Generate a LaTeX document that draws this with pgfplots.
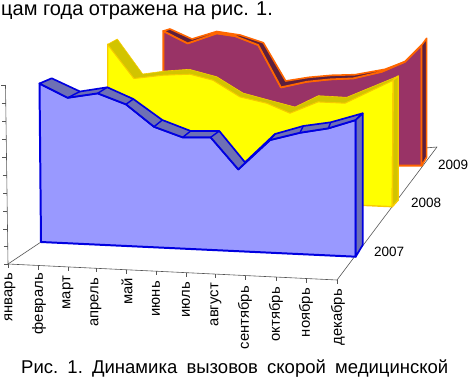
\documentclass[border=0pt]{standalone}
\usepackage{pgfplots}
\pgfplotsset{compat=1.18}
\usepackage{fontspec}
\setmainfont{Liberation Sans}
\definecolor{bluef}{HTML}{9999FF}
\definecolor{blues}{HTML}{6E70B4}
\definecolor{bluee}{HTML}{0000E0}
\definecolor{yelf}{HTML}{FFFF00}
\definecolor{yels}{HTML}{D2C400}
\definecolor{yele}{HTML}{F8CC00}
\definecolor{purf}{HTML}{993366}
\definecolor{purs}{HTML}{5C1F3E}
\definecolor{pure}{HTML}{FF6600}
\definecolor{axc}{HTML}{555555}
\begin{document}
\begin{tikzpicture}
\useasboundingbox (0,0) rectangle (470bp,379bp);
\begin{axis}[
  at={(0,0)}, anchor=south west,
  width=470bp, height=379bp, scale only axis,
  xmin=0, xmax=470, ymin=0, ymax=379, y dir=reverse,
  hide axis, clip=false,
  every axis plot/.append style={line join=round},
]
% --- axes
\addplot[axc, line width=0.6pt] coordinates {(5.5,85) (8,264) (337,280) (437,147) (425,148)};
\addplot[axc, line width=0.6pt] coordinates {(8,264) (41,242)};
\addplot[axc, line width=0.6pt, forget plot] coordinates {(1.5,85) (5.5,85)};
\addplot[axc, line width=0.6pt, forget plot] coordinates {(1.7,103) (5.7,103)};
\addplot[axc, line width=0.6pt, forget plot] coordinates {(2,121) (6,121)};
\addplot[axc, line width=0.6pt, forget plot] coordinates {(2.2,139) (6.2,139)};
\addplot[axc, line width=0.6pt, forget plot] coordinates {(2.5,157) (6.5,157)};
\addplot[axc, line width=0.6pt, forget plot] coordinates {(2.7,175) (6.7,175)};
\addplot[axc, line width=0.6pt, forget plot] coordinates {(3,193) (7,193)};
\addplot[axc, line width=0.6pt, forget plot] coordinates {(3.2,211) (7.2,211)};
\addplot[axc, line width=0.6pt, forget plot] coordinates {(3.5,229) (7.5,229)};
\addplot[axc, line width=0.6pt, forget plot] coordinates {(3.7,246) (7.7,246)};
\addplot[axc, line width=0.6pt, forget plot] coordinates {(4,264) (8,264)};
\addplot[axc, line width=0.6pt, forget plot] coordinates {(38,265.5) (38,269.5)};
\addplot[axc, line width=0.6pt, forget plot] coordinates {(68,267) (68,271)};
\addplot[axc, line width=0.6pt, forget plot] coordinates {(96,268.3) (96,272.3)};
\addplot[axc, line width=0.6pt, forget plot] coordinates {(126,269.8) (126,273.8)};
\addplot[axc, line width=0.6pt, forget plot] coordinates {(156,271.2) (156,275.2)};
\addplot[axc, line width=0.6pt, forget plot] coordinates {(186,272.7) (186,276.7)};
\addplot[axc, line width=0.6pt, forget plot] coordinates {(215,274.1) (215,278.1)};
\addplot[axc, line width=0.6pt, forget plot] coordinates {(245,275.5) (245,279.5)};
\addplot[axc, line width=0.6pt, forget plot] coordinates {(276,277) (276,281)};
\addplot[axc, line width=0.6pt, forget plot] coordinates {(306,278.5) (306,282.5)};
\addplot[axc, line width=0.6pt, forget plot] coordinates {(337,280) (337,284)};
\addplot[axc, line width=0.6pt, forget plot] coordinates {(8,264) (8,268)};
% --- 2009
\addplot[fill=purf, draw=pure, line width=2pt] coordinates {(163.3,31) (187.7,43.3) (216.7,33.3) (235,36) (258.3,45) (281,87.3) (306.7,81.7) (330,79.3) (353.3,78.3) (381.7,71.7) (405,61.7) (421.7,45) (421.7,165.7) (163.3,165.7)} -- cycle;
\addplot[fill=purs, draw=pure, line width=1.6pt] coordinates {(163.3,31) (170,29) (192,39) (216.7,31.5) (240,35) (263.3,42.7) (285.7,81) (309,77.3) (331.7,75.3) (355,74.7) (385,69.3) (405,61.7) (381.7,71.7) (353.3,78.3) (330,79.3) (306.7,81.7) (281,87.3) (258.3,45) (235,36) (216.7,33.3) (187.7,43.3)} -- cycle;
\addplot[fill=purs, draw=pure, line width=1.6pt] coordinates {(421.7,45) (426.7,38.3) (426.7,157) (421.7,165.7)} -- cycle;
% --- 2008
\addplot[fill=yelf, draw=yele, line width=1.4pt] coordinates {(107.7,44.3) (134,78.3) (163,75) (190,74) (213,80) (240,96.7) (266.7,103) (290,113) (318,101.7) (345,103) (393.3,80) (392.3,206.7) (107.7,194)} -- cycle;
\addplot[fill=yels, draw=yele, line width=0.6pt] coordinates {(107.7,44.3) (117.3,39) (142.7,74) (165,71) (189.3,69.3) (216.7,76.7) (243,93) (265,99) (295,107) (318.3,95.7) (346.7,97.3) (398.3,76) (393.3,80) (345,103) (318,101.7) (290,113) (266.7,103) (240,96.7) (213,80) (190,74) (163,75) (134,78.3)} -- cycle;
\addplot[fill=yels, draw=yele, line width=1.4pt] coordinates {(393.3,80) (398.3,76) (398.3,200) (392.3,206.7)} -- cycle;
% --- 2007
\addplot[fill=bluef, draw=bluee, line width=2pt] coordinates {(39.5,83.5) (67.7,97.7) (97.7,93.3) (126,104.3) (154,126.7) (182.7,137.3) (210.7,137.3) (238.3,169.3) (270,140) (300,132.7) (328.3,128.3) (355.7,120) (355.7,256.7) (41,242)} -- cycle;
\addplot[fill=blues, draw=bluee, line width=1.7pt] coordinates {(39.5,83.5) (51.7,78.3) (80,91.5) (107.3,87.3) (133.3,99) (162.3,120) (190.7,131) (219.3,131) (245,162.3) (275,134) (303.3,126) (330.7,122.3) (362.7,113.3) (355.7,120) (328.3,128.3) (300,132.7) (270,140) (238.3,169.3) (210.7,137.3) (182.7,137.3) (154,126.7) (126,104.3) (97.7,93.3) (67.7,97.7)} -- cycle;
\addplot[fill=blues, draw=bluee, line width=1.7pt] coordinates {(355.7,120) (362.7,113.3) (362.7,245) (355.7,256.7)} -- cycle;
% cross lines on the top strips
\addplot[bluee, line width=1.4pt, forget plot] coordinates {(67.7,97.7) (80,91.5)};
\addplot[bluee, line width=1.4pt, forget plot] coordinates {(97.7,93.3) (107.3,87.3)};
\addplot[bluee, line width=1.4pt, forget plot] coordinates {(126,104.3) (133.3,99)};
\addplot[bluee, line width=1.4pt, forget plot] coordinates {(154,126.7) (162.3,120)};
\addplot[bluee, line width=1.4pt, forget plot] coordinates {(182.7,137.3) (190.7,131)};
\addplot[bluee, line width=1.4pt, forget plot] coordinates {(210.7,137.3) (219.3,131)};
\addplot[bluee, line width=1.4pt, forget plot] coordinates {(270,140) (275,134)};
\addplot[bluee, line width=1.4pt, forget plot] coordinates {(300,132.7) (303.3,126)};
\addplot[bluee, line width=1.4pt, forget plot] coordinates {(328.3,128.3) (330.7,122.3)};
% --- text
\def\fs{\fontsize{14.8bp}{16bp}\selectfont}
\def\fy{\fontsize{13.5bp}{15bp}\selectfont}
\node[anchor=east, rotate=90, inner sep=0pt, font=\fs] at (axis cs:10,273) {январь};
\node[anchor=east, rotate=90, inner sep=0pt, font=\fs] at (axis cs:39,273) {февраль};
\node[anchor=east, rotate=90, inner sep=0pt, font=\fs] at (axis cs:68,276) {март};
\node[anchor=east, rotate=90, inner sep=0pt, font=\fs] at (axis cs:96,278) {апрель};
\node[anchor=east, rotate=90, inner sep=0pt, font=\fs] at (axis cs:127,278) {май};
\node[anchor=east, rotate=90, inner sep=0pt, font=\fs] at (axis cs:156,281) {июнь};
\node[anchor=east, rotate=90, inner sep=0pt, font=\fs] at (axis cs:186,282) {июль};
\node[anchor=east, rotate=90, inner sep=0pt, font=\fs] at (axis cs:216,283) {август};
\node[anchor=east, rotate=90, inner sep=0pt, font=\fs] at (axis cs:245,286) {сентябрь};
\node[anchor=east, rotate=90, inner sep=0pt, font=\fs] at (axis cs:276,287) {октябрь};
\node[anchor=east, rotate=90, inner sep=0pt, font=\fs] at (axis cs:306,288) {ноябрь};
\node[anchor=east, rotate=90, inner sep=0pt, font=\fs] at (axis cs:338,289) {декабрь};
\node[anchor=west, inner sep=0pt, font=\fy] at (axis cs:374,252) {2007};
\node[anchor=west, inner sep=0pt, font=\fy] at (axis cs:411,203) {2008};
\node[anchor=west, inner sep=0pt, font=\fy] at (axis cs:438,165) {2009};
\node[anchor=west, inner sep=0pt, font=\fontsize{20bp}{22bp}\selectfont] at (axis cs:1,10.5) {цам года отражена на рис. 1.};
\node[anchor=west, inner sep=0pt, font=\fontsize{18.5bp}{20bp}\selectfont] at (axis cs:21,369) {\makebox[427bp][l]{Рис.\hfill 1.\hfill Динамика\hfill вызовов\hfill скорой\hfill медицинской}};
\end{axis}
\end{tikzpicture}
\end{document}
